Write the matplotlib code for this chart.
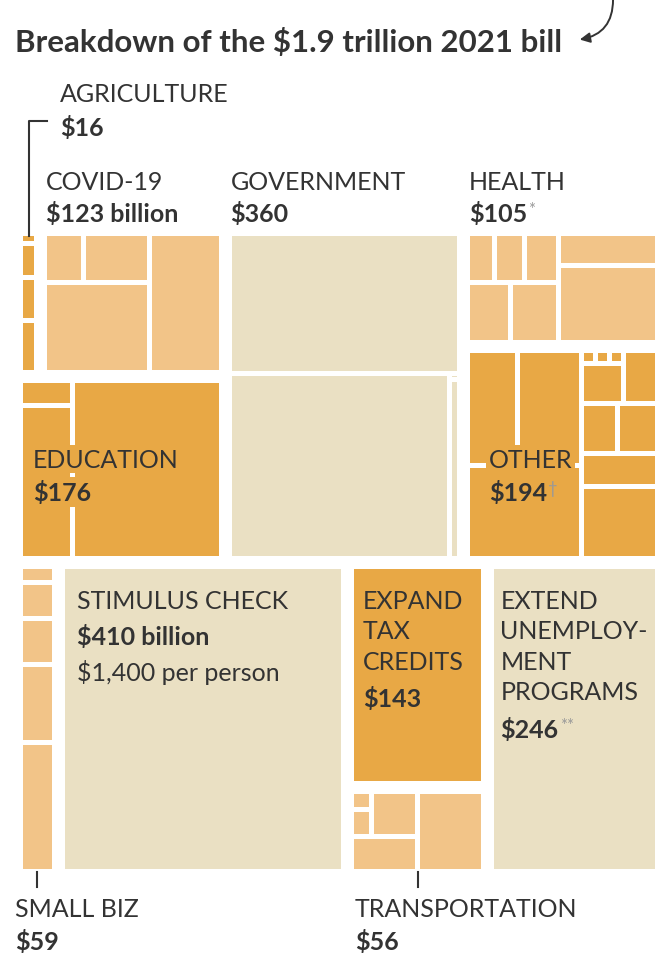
import matplotlib
matplotlib.use("Agg")
import matplotlib.pyplot as plt
from matplotlib.patches import Rectangle

plt.rcParams['font.family'] = ['Lato', 'DejaVu Sans']

# group totals, $ billions
group_names = ['AGRICULTURE', 'COVID-19', 'EDUCATION', 'GOVERNMENT', 'HEALTH', 'OTHER',
               'SMALL BIZ', 'STIMULUS CHECK', 'EXPAND TAX CREDITS', 'TRANSPORTATION',
               'EXTEND UNEMPLOYMENT PROGRAMS']
group_totals = [16, 123, 176, 360, 105, 194, 59, 410, 143, 56, 246]

# individual items inside each group
agriculture_parts = [1.1, 4.0, 4.9, 6.0]
covid_parts = [9.5, 16.0, 47.5, 50.0]
education_parts = [6.3, 39.2, 130.5]
government_parts = [154.5, 196.5, 0.3, 8.7]
health_parts = [6.7, 7.5, 8.4, 13.2, 14.4, 16.2, 38.6]
other_parts = [28.3, 36.4, 52.0, 0.85, 0.85, 0.85, 8.15, 8.9, 8.8, 9.7, 12.2, 27.0]
smallbiz_parts = [3.1, 6.9, 9.0, 15.1, 24.9]
stimulus_parts = [410]
taxcredit_parts = [143]
transport_parts = [1.9, 2.9, 11.1, 12.1, 28.0]
unemployment_parts = [246]

DARK = '#E8A845'
LIGHT = '#F2C488'
BEIGE = '#EAE0C3'
INK = '#333333'

group_parts = [agriculture_parts, covid_parts, education_parts, government_parts,
               health_parts, other_parts, smallbiz_parts, stimulus_parts,
               taxcredit_parts, transport_parts, unemployment_parts]
group_colors = [DARK, LIGHT, DARK, BEIGE, LIGHT, DARK, LIGHT, BEIGE, DARK, LIGHT, BEIGE]

# how the pieces are nested: ('h', ...) splits side by side, ('v', ...) stacks
top_tree = ('v', [('h', [('v', [('h', [0, 1]), 2]), 3, ('v', [4, 5])]),
                  ('h', [6, 7, ('v', [8, 9]), 10])])
group_trees = [
    ('v', [0, 1, 2, 3]),
    ('h', [('v', [('h', [0, 1]), 2]), 3]),
    ('h', [('v', [0, 1]), 2]),
    ('v', [0, ('h', [1, ('v', [2, 3])])]),
    ('h', [('v', [('h', [0, 1, 2]), ('h', [3, 4])]), ('v', [5, 6])]),
    ('h', [('v', [('h', [0, 1]), 2]),
           ('v', [('h', [('v', [('h', [3, 4, 5]), 6]), 7]), ('h', [8, 9]), 10, 11])]),
    ('v', [0, 1, 2, 3, 4]),
    ('v', [0]),
    ('v', [0]),
    ('h', [('v', [('h', [('v', [0, 1]), 2]), 3]), 4]),
    ('v', [0]),
]


def total(node, vals):
    if isinstance(node, int):
        return vals[node]
    return sum(total(k, vals) for k in node[1])


def place(node, vals, x0, y0, x1, y1, out):
    if isinstance(node, int):
        out[node] = (x0, y0, x1, y1)
        return
    d, kids = node
    w = [total(k, vals) for k in kids]
    s = sum(w)
    pos = x0 if d == 'h' else y0
    span = (x1 - x0) if d == 'h' else (y1 - y0)
    for k, wk in zip(kids, w):
        step = span * wk / s
        if d == 'h':
            place(k, vals, pos, y0, pos + step, y1, out)
        else:
            place(k, vals, x0, pos, x1, pos + step, out)
        pos += step


fig = plt.figure(figsize=(6.72, 9.62), dpi=100)
ax = fig.add_axes([0, 0, 1, 1])
ax.set_xlim(0, 672)
ax.set_ylim(962, 0)
ax.axis('off')

cell_pad = 2.5
group_pad = 4.0
groups = {}
place(top_tree, group_totals, 16.5, 230.5, 661.5, 876.5, groups)

for g in range(len(group_names)):
    gx0, gy0, gx1, gy1 = groups[g]
    gx0, gy0, gx1, gy1 = gx0 + group_pad, gy0 + group_pad, gx1 - group_pad, gy1 - group_pad
    groups[g] = (gx0 + cell_pad, gy0 + cell_pad, gx1 - cell_pad, gy1 - cell_pad)
    cells = {}
    place(group_trees[g], group_parts[g], gx0, gy0, gx1, gy1, cells)
    for c, (x0, y0, x1, y1) in cells.items():
        ax.add_patch(Rectangle((x0 + cell_pad, y0 + cell_pad),
                               (x1 - x0) - 2 * cell_pad, (y1 - y0) - 2 * cell_pad,
                               facecolor=group_colors[g], edgecolor='none'))

LAB = dict(fontsize=18, color=INK, va='center', ha='left', fontweight='normal')
VAL = dict(fontsize=18, color=INK, va='center', ha='left', fontweight='bold')
ON_DARK = dict(facecolor=DARK, edgecolor='none', pad=2)


def note(txt, mark):
    ax.annotate(mark, xy=(1.02, 1.0), xycoords=txt, va='top', ha='left',
                fontsize=12, color='#999999')


# title + arrow
ax.text(15, 42, 'Breakdown of the $1.9 trillion 2021 bill', fontsize=22.5,
        fontweight='bold', color=INK, va='center', ha='left')
ax.annotate('', xy=(577, 41), xytext=(613, -2),
            arrowprops=dict(arrowstyle='-|>', color=INK, lw=1.4,
                            connectionstyle='arc3,rad=-0.45', mutation_scale=15))

# agriculture, with bracket
ax0, ay0, ax1, ay1 = groups[0]
axc = (ax0 + ax1) / 2
ax.plot([axc, axc, axc + 18], [ay0, 122, 122], color=INK, lw=1.5)
ax.text(60, 94, 'AGRICULTURE', **LAB)
ax.text(60, 128, '$16', **VAL)

# labels above the top row
for g, val in [(1, '$123 billion'), (3, '$360'), (4, '$105')]:
    x0, y0, x1, y1 = groups[g]
    ax.text(x0 - 1, y0 - 55, group_names[g], **LAB)
    v = ax.text(x0 - 1, y0 - 23, val, **VAL)
    if g == 4:
        note(v, '*')

# labels inside boxes
ex0, ey0, ex1, ey1 = groups[2]
ax.text(ex0 + 10, ey0 + 76, 'EDUCATION', bbox=ON_DARK, **LAB)
ax.text(ex0 + 10, ey0 + 109, '$176', bbox=ON_DARK, **VAL)

x0, y0, x1, y1 = groups[5]
ax.text(x0 + 19, ey0 + 76, 'OTHER', bbox=ON_DARK, **LAB)
v = ax.text(x0 + 19, ey0 + 109, '$194', bbox=ON_DARK, **VAL)
note(v, '\u2020')

x0, y0, x1, y1 = groups[7]
ax.text(x0 + 12, y0 + 31, 'STIMULUS CHECK', **LAB)
ax.text(x0 + 12, y0 + 67, '$410 billion', **VAL)
ax.text(x0 + 12, y0 + 102, '$1,400 per person', **LAB)

x0, y0, x1, y1 = groups[8]
for i, line in enumerate(['EXPAND', 'TAX', 'CREDITS']):
    ax.text(x0 + 9, y0 + 31 + 30.5 * i, line, **LAB)
ax.text(x0 + 9, y0 + 129, '$143', **VAL)

x0, y0, x1, y1 = groups[10]
for i, line in enumerate(['EXTEND', 'UNEMPLOY-', 'MENT', 'PROGRAMS']):
    ax.text(x0 + 6, y0 + 31 + 30.5 * i, line, **LAB)
v = ax.text(x0 + 6, y0 + 160, '$246', **VAL)
note(v, '**')

# labels below the bottom row, with ticks
for g, val, lx in [(6, '$59', 15), (9, '$56', None)]:
    x0, y0, x1, y1 = groups[g]
    xc = (x0 + x1) / 2
    ax.plot([xc, xc], [y1 + 3, y1 + 18], color=INK, lw=1.5)
    tx = lx if lx is not None else x0 + 1
    ax.text(tx, 910, group_names[g], **LAB)
    ax.text(tx, 942, val, **VAL)

fig.savefig('out.png', dpi=100, facecolor='white')
